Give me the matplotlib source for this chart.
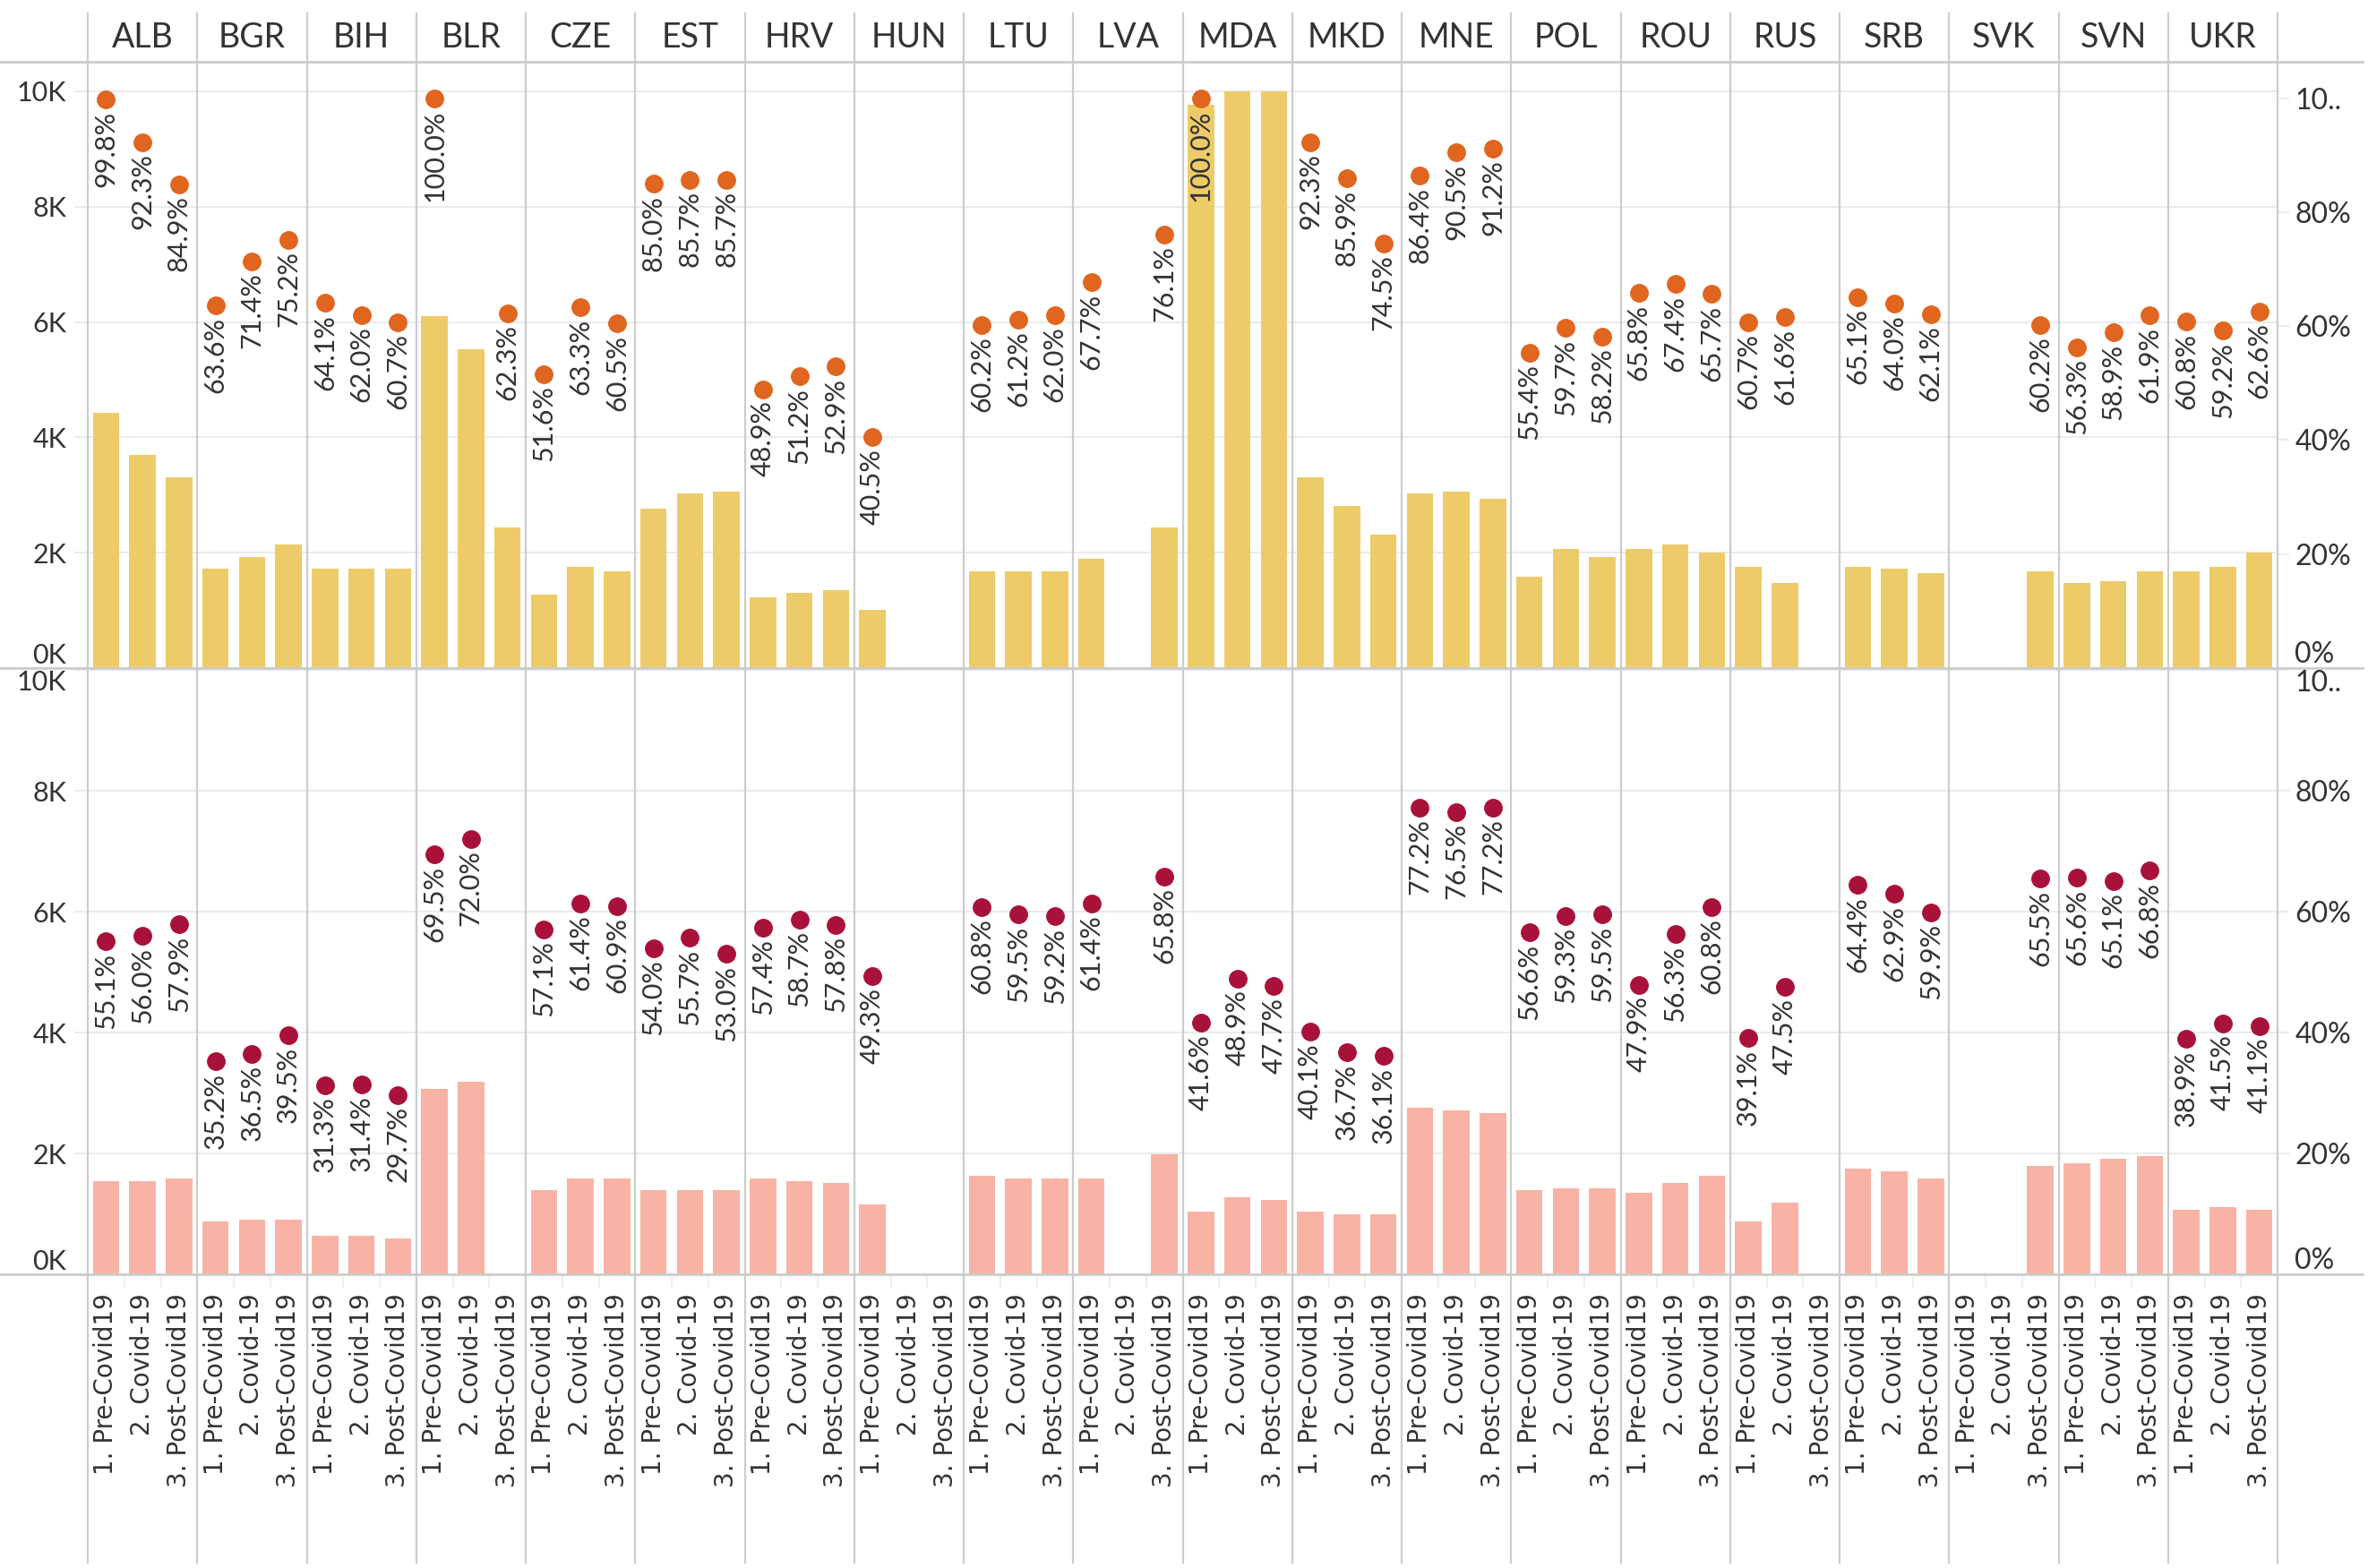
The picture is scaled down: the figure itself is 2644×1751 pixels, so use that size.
"""Recreation of a two-panel Tableau-style bar + dot chart by country and period."""

import numpy as np
import matplotlib

matplotlib.use("Agg")
import matplotlib.pyplot as plt  # noqa: E402
from matplotlib.lines import Line2D  # noqa: E402
from matplotlib.transforms import blended_transform_factory  # noqa: E402

plt.rcParams["font.family"] = ["Lato", "DejaVu Sans"]

nan = np.nan

countries = ["ALB", "BGR", "BIH", "BLR", "CZE", "EST", "HRV", "HUN", "LTU", "LVA",
             "MDA", "MKD", "MNE", "POL", "ROU", "RUS", "SRB", "SVK", "SVN", "UKR"]
periods = ["1. Pre-Covid19", "2. Covid-19", "3. Post-Covid19"]

# upper panel: bar counts and dot shares (%)
top_counts = [
    [4430, 3690, 3310], [1720, 1930, 2150], [1720, 1720, 1720], [6100, 5520, 2430],
    [1270, 1760, 1680], [2760, 3020, 3060], [1220, 1300, 1350], [1010, nan, nan],
    [1680, 1680, 1680], [1890, nan, 2430], [9770, 10000, 10000], [3310, 2810, 2310],
    [3020, 3060, 2940], [1590, 2060, 1930], [2060, 2150, 2010], [1760, 1480, nan],
    [1760, 1720, 1650], [nan, nan, 1680], [1480, 1510, 1680], [1680, 1760, 2010],
]
top_share = [
    [99.8, 92.3, 84.9], [63.6, 71.4, 75.2], [64.1, 62.0, 60.7], [100.0, nan, 62.3],
    [51.6, 63.3, 60.5], [85.0, 85.7, 85.7], [48.9, 51.2, 52.9], [40.5, nan, nan],
    [60.2, 61.2, 62.0], [67.7, nan, 76.1], [100.0, nan, nan], [92.3, 85.9, 74.5],
    [86.4, 90.5, 91.2], [55.4, 59.7, 58.2], [65.8, 67.4, 65.7], [60.7, 61.6, nan],
    [65.1, 64.0, 62.1], [nan, nan, 60.2], [56.3, 58.9, 61.9], [60.8, 59.2, 62.6],
]

# lower panel
bottom_counts = [
    [1540, 1540, 1590], [870, 910, 910], [630, 630, 590], [3070, 3190, nan],
    [1390, 1590, 1590], [1390, 1390, 1390], [1590, 1540, 1510], [1150, nan, nan],
    [1630, 1590, 1590], [1590, nan, 1990], [1030, 1270, 1230], [1030, 990, 990],
    [2750, 2710, 2670], [1390, 1420, 1420], [1350, 1510, 1630], [870, 1190, nan],
    [1750, 1710, 1590], [nan, nan, 1790], [1830, 1910, 1950], [1070, 1110, 1070],
]
bottom_share = [
    [55.1, 56.0, 57.9], [35.2, 36.5, 39.5], [31.3, 31.4, 29.7], [69.5, 72.0, nan],
    [57.1, 61.4, 60.9], [54.0, 55.7, 53.0], [57.4, 58.7, 57.8], [49.3, nan, nan],
    [60.8, 59.5, 59.2], [61.4, nan, 65.8], [41.6, 48.9, 47.7], [40.1, 36.7, 36.1],
    [77.2, 76.5, 77.2], [56.6, 59.3, 59.5], [47.9, 56.3, 60.8], [39.1, 47.5, nan],
    [64.4, 62.9, 59.9], [nan, nan, 65.5], [65.6, 65.1, 66.8], [38.9, 41.5, 41.1],
]

count_ticks = [0, 2000, 4000, 6000, 8000, 10000]
share_ticks = [0, 20, 40, 60, 80, 100]
share_tick_labels = ["0%", "20%", "40%", "60%", "80%", "10.."]

YELLOW = "#EECB69"
ORANGE = "#E0651F"
SALMON = "#F8B3A4"
DARKRED = "#A8123A"
LINE = "#CCCCCC"
GRID = "#EBEBEB"
TEXT = "#333333"

W, H, DPI = 2644, 1751, 100
fig = plt.figure(figsize=(W / DPI, H / DPI), dpi=DPI)
fig.patch.set_facecolor("white")


def px_axes(x0, y0, x1, y1):
    return fig.add_axes([x0 / W, 1 - y1 / H, (x1 - x0) / W, (y1 - y0) / H])


n = len(countries) * len(periods)
x = np.arange(n)


def draw_panel(ax, counts, shares, bar_color, dot_color, cmax, pmax, top_inside):
    vals = np.array(counts, float).ravel()
    pct = np.array(shares, float).ravel()
    ax.bar(x, vals, width=0.73, color=bar_color, zorder=2)
    ax.set_xlim(-0.5, n - 0.5)
    ax.set_ylim(0, cmax)
    ax.set_yticks(count_ticks)
    ax.set_yticklabels([f"{v // 1000}K" for v in count_ticks])
    ax.grid(axis="y", color=GRID, linewidth=1.4)
    ax.set_axisbelow(True)
    ax.tick_params(axis="y", length=11, width=1.3, color=GRID, pad=6,
                   labelsize=22, labelcolor=TEXT)
    for s in ax.spines.values():
        s.set_visible(False)

    axr = ax.twinx()
    axr.set_ylim(0, pmax)
    axr.set_yticks(share_ticks)
    axr.set_yticklabels(share_tick_labels)
    axr.tick_params(axis="y", length=9, width=1.3, color=GRID, pad=5,
                    labelsize=23, labelcolor=TEXT)
    for s in axr.spines.values():
        s.set_visible(False)
    axr.plot(x, pct, "o", ls="none", ms=14, color=dot_color, zorder=3)
    for xi, p in zip(x, pct):
        if np.isnan(p):
            continue
        axr.annotate(f"{p:.1f}%", (xi, p), xytext=(0, -9), textcoords="offset points",
                     rotation=90, ha="center", va="top", fontsize=22, color=TEXT)

    # keep edge labels inside the pane, as Tableau does
    for a in (ax, axr):
        labels = a.get_yticklabels()
        labels[0].set_va("bottom")
        if top_inside:
            labels[-1].set_va("top")
    return axr


ax_top = px_axes(98, 69, 2543, 746)
ax_bot = px_axes(98, 746, 2543, 1423)

draw_panel(ax_top, top_counts, top_share, YELLOW, ORANGE, 10510, 106.4, False)
draw_panel(ax_bot, bottom_counts, bottom_share, SALMON, DARKRED, 10030, 100.3, True)

ax_top.set_xticks([])
ax_bot.set_xticks(x)
ax_bot.set_xticklabels(periods * len(countries), rotation=90, fontsize=20,
                       family="DejaVu Sans", color=TEXT)
ax_bot.tick_params(axis="x", length=0, pad=15)
ax_bot.set_xticks(np.arange(n) - 0.5, minor=True)
ax_bot.tick_params(axis="x", which="minor", length=11, width=1.2, color=GRID)

# column separators and header labels
trans = blended_transform_factory(ax_top.transData, fig.transFigure)
for i, c in enumerate(countries):
    fig.text(i * 3 + 1, 1 - 42 / H, c, transform=trans, ha="center", va="center",
             fontsize=27, color=TEXT)
for i in range(len(countries) + 1):
    fig.add_artist(Line2D([i * 3 - 0.5] * 2, [1 - 15 / H, 1 - 1745 / H],
                          transform=trans, color=LINE, lw=1.6, zorder=5))

for ypx in (69, 746, 1423):
    fig.add_artist(Line2D([0, 2638 / W], [1 - ypx / H] * 2, transform=fig.transFigure,
                          color=LINE, lw=2, zorder=5))

fig.savefig("out.png", dpi=DPI, facecolor="white")
